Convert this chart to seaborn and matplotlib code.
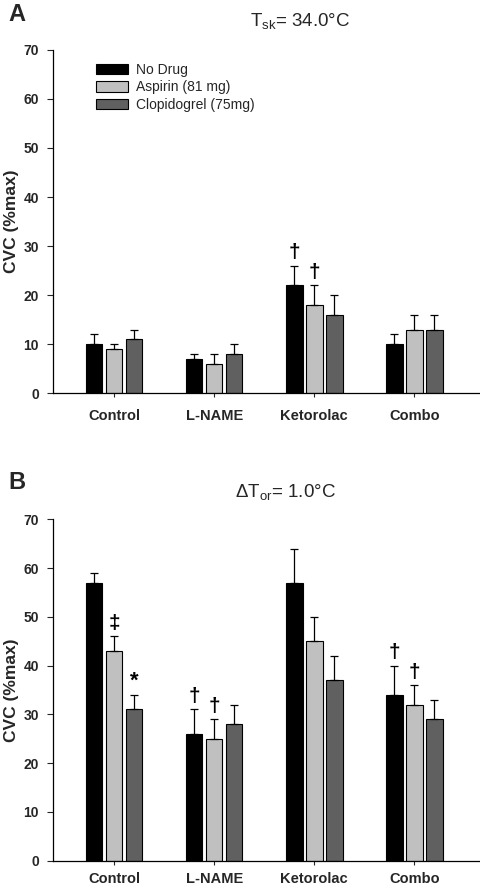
import matplotlib
matplotlib.use("Agg")
import matplotlib.pyplot as plt
import seaborn as sns
import pandas as pd
import numpy as np

categories = ["Control", "L-NAME", "Ketorolac", "Combo"]
groups = ["No Drug", "Aspirin (81 mg)", "Clopidogrel (75mg)"]
colors = ["#000000", "#c0c0c0", "#606060"]

# Panel A: Tsk = 34.0 C
a_nodrug = [10, 7, 22, 10]
a_aspirin = [9, 6, 18, 13]
a_clop = [11, 8, 16, 13]
a_err_nodrug = [2, 1, 4, 2]
a_err_aspirin = [1, 2, 4, 3]
a_err_clop = [2, 2, 4, 3]
a_marks = {("Ketorolac", "No Drug"): "†", ("Ketorolac", "Aspirin (81 mg)"): "†"}

# Panel B: dTor = 1.0 C
b_nodrug = [57, 26, 57, 34]
b_aspirin = [43, 25, 45, 32]
b_clop = [31, 28, 37, 29]
b_err_nodrug = [2, 5, 7, 6]
b_err_aspirin = [3, 4, 5, 4]
b_err_clop = [3, 4, 5, 4]
b_marks = {("Control", "Aspirin (81 mg)"): "‡", ("Control", "Clopidogrel (75mg)"): "*",
           ("L-NAME", "No Drug"): "†", ("L-NAME", "Aspirin (81 mg)"): "†",
           ("Combo", "No Drug"): "†", ("Combo", "Aspirin (81 mg)"): "†"}

yticks = [0, 10, 20, 30, 40, 50, 60, 70]

sns.set_theme(style="ticks")
plt.rcParams["font.family"] = ["Liberation Sans", "DejaVu Sans"]

def make_df(v1, v2, v3, e1, e2, e3):
    rows = []
    for g, vals, errs in zip(groups, [v1, v2, v3], [e1, e2, e3]):
        for c, v, e in zip(categories, vals, errs):
            rows.append({"cat": c, "group": g, "val": v, "err": e})
    return pd.DataFrame(rows)

dfA = make_df(a_nodrug, a_aspirin, a_clop, a_err_nodrug, a_err_aspirin, a_err_clop)
dfB = make_df(b_nodrug, b_aspirin, b_clop, b_err_nodrug, b_err_aspirin, b_err_clop)

fig = plt.figure(figsize=(4.8, 8.9), dpi=100)
axA = fig.add_axes([0.110, 0.558, 0.890, 0.386])
axB = fig.add_axes([0.110, 0.033, 0.890, 0.3835])

def draw(ax, df, marks, legend, xpad):
    sns.barplot(data=df, x="cat", y="val", hue="group", order=categories,
                hue_order=groups, palette=colors, errorbar=None, width=0.6,
                gap=0.17, edgecolor="black", linewidth=0.8, ax=ax, legend=legend,
                saturation=1)
    for g, cont in zip(groups, ax.containers):
        sub = df[df.group == g].set_index("cat").loc[categories]
        for bar, (c, row) in zip(cont.patches, sub.iterrows()):
            xc = bar.get_x() + bar.get_width() / 2
            top = bar.get_height()
            ax.errorbar([xc], [top], yerr=[[0], [row.err]], fmt="none",
                        ecolor="black", elinewidth=0.9, capsize=2.6, capthick=0.9)
            m = marks.get((c, g))
            if m:
                fs = 15 if m != "*" else 16
                ax.text(xc, top + row.err + 0.7, m, ha="center", va="bottom",
                        fontsize=fs, fontweight="bold", color="black")
    ax.set_ylim(0, 70)
    ax.set_xlim(-0.613, 3.657)
    ax.set_yticks(yticks)
    ax.set_yticklabels([str(t) for t in yticks], fontsize=10, fontweight="bold")
    ax.set_xticks(range(len(categories)))
    ax.set_xticklabels(categories, fontsize=10.5, fontweight="bold")
    ax.set_xlabel("")
    ax.set_ylabel("CVC (%max)", fontsize=12.5, fontweight="bold", labelpad=3)
    ax.tick_params(axis="y", length=4, width=0.8, pad=6)
    ax.tick_params(axis="x", length=3, width=0.8, pad=xpad)
    sns.despine(ax=ax)
    for s in ["left", "bottom"]:
        ax.spines[s].set_linewidth(0.9)
        ax.spines[s].set_color("black")

draw(axA, dfA, a_marks, True, 8.5)
draw(axB, dfB, b_marks, False, 5)

leg = axA.legend(loc="upper left", bbox_to_anchor=(0.088, 0.978), frameon=False,
                 fontsize=10, handlelength=2.3, handleheight=0.75,
                 labelspacing=0.25, handletextpad=0.58, borderaxespad=0)
for h in leg.legend_handles:
    h.set_edgecolor("black")
    h.set_linewidth(0.8)

fig.text(0.017, 0.984, "A", fontsize=17, fontweight="bold", va="center", ha="left")
fig.text(0.017, 0.4576, "B", fontsize=17, fontweight="bold", va="center", ha="left")
fig.text(0.625, 0.975, r"T$_{\mathregular{sk}}$= 34.0°C", fontsize=13.5, ha="center", va="center")
fig.text(0.595, 0.446, r"ΔT$_{\mathregular{or}}$= 1.0°C", fontsize=13.5, ha="center", va="center")

fig.savefig("out.png", dpi=100, facecolor="white")
